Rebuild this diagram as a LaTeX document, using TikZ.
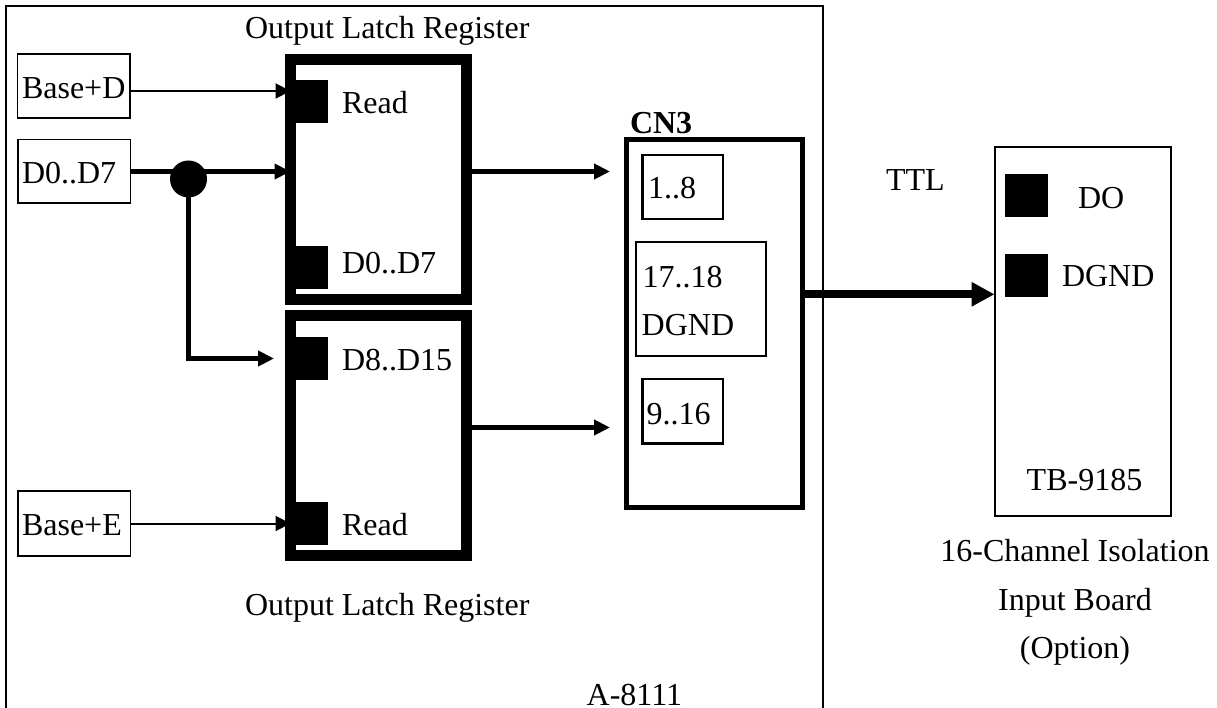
\documentclass[tikz,border=0pt]{standalone}
\usepackage{fontspec}
\setmainfont{Liberation Serif}
\usetikzlibrary{arrows.meta}
\tikzset{
  lbl/.style={inner sep=0pt, outer sep=0pt, anchor=base west, font=\fontsize{32}{38}\selectfont},
  lblc/.style={inner sep=0pt, outer sep=0pt, anchor=base, font=\fontsize{32}{38}\selectfont},
  thinbox/.style={draw=black, line width=1.8pt, inner sep=0pt, outer sep=0pt, anchor=south west, align=left, font=\fontsize{32}{38}\selectfont},
  medbox/.style={draw=black, line width=2.6pt, inner sep=0pt, outer sep=0pt, anchor=south west, align=left, font=\fontsize{32}{38}\selectfont},
  latch/.style={draw=black, line width=10.5pt, inner sep=0pt, outer sep=0pt, minimum width=176pt, minimum height=240pt},
  cnbox/.style={draw=black, line width=5pt, inner sep=0pt, outer sep=0pt, minimum width=176pt, minimum height=368pt},
  tbbox/.style={draw=black, line width=2pt, inner sep=0pt, outer sep=0pt, minimum width=176.5pt, minimum height=369pt},
  pin/.style={fill=black, inner sep=0pt, outer sep=0pt, minimum width=43pt, minimum height=43pt},
  dotnode/.style={circle, fill=black, inner sep=0pt, outer sep=0pt, minimum size=37pt},
  frameline/.style={line width=2pt, line join=miter},
  wirethin/.style={line width=2pt, -{Triangle[length=15pt,width=15pt]}},
  wirebus/.style={line width=5pt, -{Triangle[length=16pt,width=15pt]}},
  wirebig/.style={line width=8pt, -{Triangle[length=23pt,width=23pt]}},
}
\begin{document}
\begin{tikzpicture}[x=1pt,y=-1pt]
\useasboundingbox (0,0) rectangle (1217,708);
% outer board frame (runs off the page at the bottom)
\coordinate (frameBL) at (6,708);
\coordinate (frameTL) at (6,6);
\coordinate (frameTR) at (823,6);
\coordinate (frameBR) at (823,708);
\draw[frameline] (frameBL) -- (frameTL) -- (frameTR) -- (frameBR);

% latches
\node[latch] (latchA) at (378.5,179.5) {};
\node[latch] (latchB) at (378.5,435.5) {};
\node[pin] (pinA1) at (306.5,102) {};
\node[pin] (pinA2) at (306.5,267.5) {};
\node[pin] (pinB1) at (306.5,358) {};
\node[pin] (pinB2) at (306.5,523.5) {};
\node[lbl] (tLatchTop) at (245,39) {Output Latch Register};
\node[lbl] (tLatchBot) at (245,615) {Output Latch Register};
\node[lbl] (tReadA) at (342,114) {Read};
\node[lbl] (tD07) at (342,274) {D0..D7};
\node[lbl] (tD815) at (342,370) {D8..D15};
\node[lbl] (tReadB) at (342,535) {Read};

% left input boxes
\node[thinbox, text width=112.5pt, text height=44.5pt, text depth=19.5pt] (based) at (17.5,118) {\hspace*{4.5pt}Base+D};
\node[thinbox, text width=112.5pt, text height=44.5pt, text depth=19pt] (d07) at (18,203) {\hspace*{4pt}D0..D7};
\node[thinbox, text width=112.5pt, text height=44.7pt, text depth=20.3pt] (basee) at (18,556) {\hspace*{4pt}Base+E};

% connector CN3
\node[cnbox] (cn3) at (714.5,323.5) {};
\node[lbl, font=\fontsize{32}{38}\selectfont\bfseries] (tCN3) at (630,134) {CN3};
\node[medbox, text width=80.5pt, text height=44pt, text depth=20pt] (p18) at (642.5,219) {\hspace*{5.5pt}1..8};
\node[thinbox, text width=130pt, text height=45.7pt, text depth=68pt] (p1718) at (636,356) {\hspace*{6.7pt}17..18\\[9.7pt]\hspace*{5.7pt}DGND};
\node[medbox, text width=80.5pt, text height=45pt, text depth=19.5pt] (p916) at (642.5,443.5) {\hspace*{4.2pt}9..16};

% TB-9185 board
\node[tbbox] (tb) at (1082.8,331.2) {};
\node[pin] (pinDO) at (1026.8,195.2) {};
\node[pin] (pinGND) at (1026.8,275.2) {};
\node[lbl] (tDO) at (1078,209) {DO};
\node[lbl] (tDGND) at (1062,286.7) {DGND};
\node[lbl] (tTB) at (1026.7,490.7) {TB-9185};
\node[lbl] (tTTL) at (886,190.7) {TTL};

\node[lblc] (tCh) at (1075,561.7) {16-Channel Isolation};
\node[lblc] (tIn) at (1075,610) {Input Board};
\node[lblc] (tOp) at (1075,658) {(Option)};
\node[lbl] (tA) at (586.7,705) {A-8111};

% junction
\node[dotnode] (junc) at (188.5,179) {};

% free ends
\coordinate (endB) at (274,358.5);
\coordinate (endOutA) at (610,171.5);
\coordinate (endOutB) at (610,427.5);

% connectors
\draw[wirethin] (based.east |- 0,91) -- (latchA.west |- 0,91);
\draw[wirethin] (basee.east |- 0,523.5) -- (latchB.west |- 0,523.5);
\draw[wirebus] (d07.east |- 0,171.5) -- (latchA.west |- 0,171.5);
\draw[wirebus] (junc.center) |- (endB);
\draw[wirebus] (latchA.east |- endOutA) -- (endOutA);
\draw[wirebus] (latchB.east |- endOutB) -- (endOutB);
\draw[wirebig] (cn3.east |- 0,294.3) -- (tb.west |- 0,294.3);
\end{tikzpicture}
\end{document}
